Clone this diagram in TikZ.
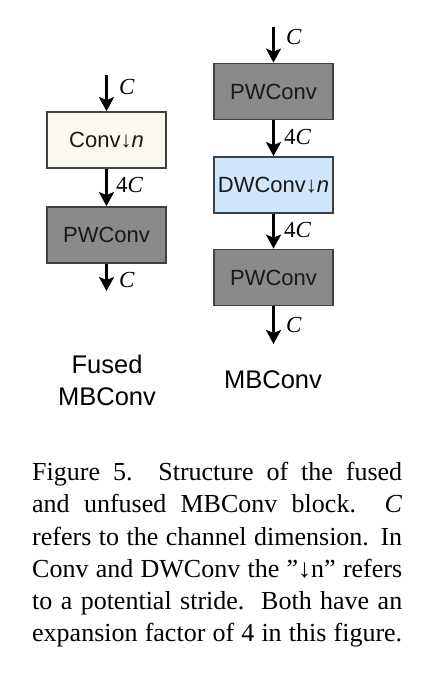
\documentclass[tikz,border=0pt]{standalone}
\usepackage{fontspec}
\setmainfont{Liberation Serif}
\newfontfamily\labelsans{Liberation Sans}
\usetikzlibrary{arrows.meta}
\definecolor{creamfill}{HTML}{FBF9EE}
\definecolor{greyfill}{HTML}{8A8A8A}
\definecolor{bluefill}{HTML}{CFE6FD}
\definecolor{boxline}{HTML}{404040}
\tikzset{
  blockbox/.style={draw=boxline, line width=1.8pt, minimum width=119pt, minimum height=56pt,
    inner sep=0pt, font=\labelsans\fontsize{22}{26}\selectfont, text=black!90},
  flowarrow/.style={line width=2.4pt, -{Stealth[length=14pt,width=15pt,inset=3pt]}},
  chlabel/.style={anchor=west, inner sep=0pt, font=\fontsize{23}{26}\selectfont},
  titlelabel/.style={align=center, inner sep=0pt, font=\labelsans\fontsize{25.5}{32}\selectfont},
}
\begin{document}
\begin{tikzpicture}[x=1pt,y=-1pt]
\useasboundingbox (0,0) rectangle (428,680);
\fill[white] (0,0) rectangle (428,680);
% left column (Fused MBConv)
\node[blockbox, fill=creamfill] (conv) at (106.5,140) {Conv↓\textit{n}};
\node[blockbox, fill=greyfill] (pwl) at (106.5,235) {PWConv};
\coordinate (lin) at (106.5,75);
\coordinate (lout) at (106.5,291);
\draw[flowarrow] (lin) -- (conv.north);
\draw[flowarrow] (conv.south) -- (pwl.north);
\draw[flowarrow] (pwl.south) -- (lout);
\node[chlabel] (lc1) at (119,87) {\textit{C}};
\node[chlabel] (lc2) at (116,185) {4\textit{C}};
\node[chlabel] (lc3) at (119,280) {\textit{C}};
\node[titlelabel, anchor=base] (ltitle) at (107,405) {Fused\\MBConv};
% right column (MBConv)
\node[blockbox, fill=greyfill] (pwa) at (273.5,91.5) {PWConv};
\node[blockbox, fill=bluefill] (dw) at (273.5,185) {DWConv↓\textit{n}};
\node[blockbox, fill=greyfill] (pwb) at (273.5,277.5) {PWConv};
\coordinate (rin) at (273.5,27);
\coordinate (rout) at (273.5,344);
\draw[flowarrow] (rin) -- (pwa.north);
\draw[flowarrow] (pwa.south) -- (dw.north);
\draw[flowarrow] (dw.south) -- (pwb.north);
\draw[flowarrow] (pwb.south) -- (rout);
\node[chlabel] (rc1) at (286,37) {\textit{C}};
\node[chlabel] (rc2) at (284,137) {4\textit{C}};
\node[chlabel] (rc3) at (284,230) {4\textit{C}};
\node[chlabel] (rc4) at (286,325) {\textit{C}};
\node[titlelabel, anchor=base] (rtitle) at (273,388) {MBConv};
% caption
\node[anchor=base west, inner sep=0pt] (caption) at (32,480.7) {\parbox[t]{370pt}{\fontsize{26}{32.2}\selectfont
\makebox[370pt][s]{Figure 5.\ \ Structure of the fused}\par
\makebox[370pt][s]{and unfused MBConv block.\ \ \textit{C}}\par
\makebox[370pt][s]{refers to the channel dimension. In}\par
\makebox[370pt][s]{Conv and DWConv the ”↓n” refers}\par
\makebox[370pt][s]{to a potential stride.\ \ Both have an}\par
\makebox[370pt][s]{expansion factor of 4 in this figure.}}};
\end{tikzpicture}
\end{document}
